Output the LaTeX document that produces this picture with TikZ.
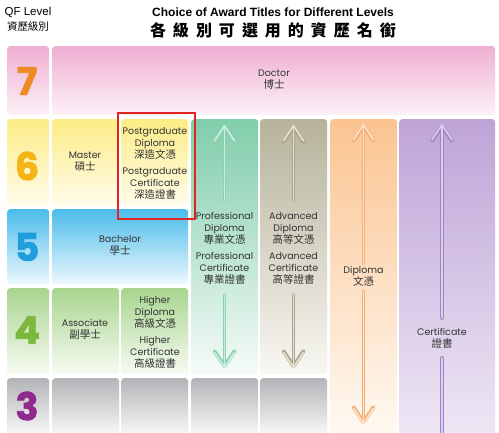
\documentclass[tikz,border=0pt]{standalone}
\usepackage{fontspec}
\setmainfont{Poppins}
\newfontfamily\zhfont{Noto Sans CJK TC}
\newfontfamily\headfont{Liberation Sans}
\newfontfamily\numfont{Poppins}[BoldFeatures={FakeBold=2}]
\usetikzlibrary{arrows.meta,positioning}

\newcommand\zhtxt[1]{{\zhfont\fontsize{10.5}{12}\selectfont #1}}

\definecolor{pinkA}{HTML}{EFAFD2}
\definecolor{pinkB}{HTML}{FDF1F7}
\definecolor{yellowA}{HTML}{FCEC86}
\definecolor{yellowB}{HTML}{FFFCEC}
\definecolor{blueA}{HTML}{4BBCEB}
\definecolor{blueB}{HTML}{EDF8FD}
\definecolor{greenA}{HTML}{A8D58F}
\definecolor{greenB}{HTML}{F7FBF3}
\definecolor{greyA}{HTML}{B3B4B7}
\definecolor{greyB}{HTML}{FFFFFF}
\definecolor{tealA}{HTML}{80CDAB}
\definecolor{tealB}{HTML}{F5FBF8}
\definecolor{khakiA}{HTML}{B6B29B}
\definecolor{khakiB}{HTML}{F8F7F2}
\definecolor{orangeA}{HTML}{FBC491}
\definecolor{orangeB}{HTML}{FFFAF4}
\definecolor{purpleA}{HTML}{BEA4D7}
\definecolor{purpleB}{HTML}{EFE8F5}
\definecolor{lv7}{HTML}{F08A24}
\definecolor{lv6}{HTML}{F5B417}
\definecolor{lv5}{HTML}{1E9EDB}
\definecolor{lv4}{HTML}{7CB83E}
\definecolor{lv3}{HTML}{8E2A8E}
\definecolor{framered}{HTML}{E02424}
\definecolor{tealline}{HTML}{8FD0B3}
\definecolor{tealfill}{HTML}{CBEFDE}
\definecolor{khakiline}{HTML}{A9A58E}
\definecolor{khakifill}{HTML}{E6E2CE}
\definecolor{orangeline}{HTML}{F4B07A}
\definecolor{orangefill}{HTML}{FFE3C8}
\definecolor{purpleline}{HTML}{A186C4}
\definecolor{purplefill}{HTML}{DCCDEC}

\tikzset{
  cell/.style={rounded corners=3pt, inner sep=0pt, anchor=north west},
  lbl/.style={align=center, inner sep=0pt, text=black!80, font=\fontsize{9.5}{12}\selectfont},
  lvl/.style={inner sep=0pt, font=\numfont\fontsize{38}{38}\selectfont\bfseries},
  tip/.style={-{Straight Barb[length=15pt,width=20pt,round]}},
  flow/.style 2 args={line width=1.6pt, draw=#2, line cap=round, preaction={draw=#1, line width=3.8pt, line cap=round}},
  flowtip/.style 2 args={tip, line width=1.6pt, draw=#2, line cap=round, preaction={draw=#1, line width=3.8pt, line cap=round, tip}}
}

\begin{document}
\begin{tikzpicture}[x=1pt,y=-1pt]
  \clip (0,0) rectangle (499,433);
  \fill[white] (0,0) rectangle (499,433);

  \node[font=\headfont\bfseries\fontsize{12}{14}\selectfont] (title) at (273,12) {Choice of Award Titles for Different Levels};
  \node[font=\zhfont\bfseries\fontsize{16}{18}\selectfont] (titlezh) at (273,30) {各\hspace{7pt}級\hspace{7pt}別\hspace{7pt}可\hspace{7pt}選\hspace{7pt}用\hspace{7pt}的\hspace{7pt}資\hspace{7pt}歷\hspace{7pt}名\hspace{7pt}銜};
  \node[font=\headfont\fontsize{11.5}{13}\selectfont] (qf) at (28,12) {QF Level};
  \node[font=\zhfont\fontsize{10.5}{12}\selectfont] (qfzh) at (28,27) {資歷級別};

  \node[cell, top color=pinkA, bottom color=pinkB, minimum width=42pt, minimum height=69pt] (l7) at (7,46) {};
  \node[cell, top color=yellowA, bottom color=yellowB, minimum width=42pt, minimum height=87pt] (l6) at (7,119) {};
  \node[cell, top color=blueA, bottom color=blueB, minimum width=42pt, minimum height=75pt] (l5) at (7,209) {};
  \node[cell, top color=greenA, bottom color=greenB, minimum width=42pt, minimum height=86pt] (l4) at (7,288) {};
  \node[cell, top color=greyA, bottom color=greyB, minimum width=42pt, minimum height=62pt] (l3) at (7,378) {};

  \node[cell, top color=pinkA, bottom color=pinkB, minimum width=443pt, minimum height=69pt] (doctor) at (52,46) {};
  \node[cell, top color=yellowA, bottom color=yellowB, minimum width=67pt, minimum height=87pt] (master) at (52,119) {};
  \node[cell, top color=yellowA, bottom color=yellowB, minimum width=67pt, minimum height=87pt] (pgrad) at (121,119) {};
  \node[cell, top color=blueA, bottom color=blueB, minimum width=136pt, minimum height=75pt] (bachelor) at (52,209) {};
  \node[cell, top color=greenA, bottom color=greenB, minimum width=67pt, minimum height=86pt] (assoc) at (52,288) {};
  \node[cell, top color=greenA, bottom color=greenB, minimum width=67pt, minimum height=86pt] (higher) at (121,288) {};
  \node[cell, top color=tealA, bottom color=tealB, minimum width=67pt, minimum height=255pt] (prof) at (191,119) {};
  \node[cell, top color=khakiA, bottom color=khakiB, minimum width=67pt, minimum height=255pt] (adv) at (260,119) {};
  \node[cell, top color=orangeA, bottom color=orangeB, minimum width=67pt, minimum height=321pt] (dip) at (330,119) {};
  \node[cell, top color=purpleA, bottom color=purpleB, minimum width=96pt, minimum height=321pt] (cert) at (399,119) {};
  \node[cell, top color=greyA, bottom color=greyB, minimum width=67pt, minimum height=62pt] (g1) at (52,378) {};
  \node[cell, top color=greyA, bottom color=greyB, minimum width=67pt, minimum height=62pt] (g2) at (121,378) {};
  \node[cell, top color=greyA, bottom color=greyB, minimum width=67pt, minimum height=62pt] (g3) at (191,378) {};
  \node[cell, top color=greyA, bottom color=greyB, minimum width=67pt, minimum height=62pt] (g4) at (260,378) {};

  \node[lvl, text=lv7] (n7) at (27,81) {7};
  \node[lvl, text=lv6] (n6) at (27,166) {6};
  \node[lvl, text=lv5] (n5) at (27,247) {5};
  \node[lvl, text=lv4] (n4) at (27,330) {4};
  \node[lvl, text=lv3] (n3) at (27,406) {3};

  \node[lbl] (tdoctor) at (274,80) {Doctor\\\zhtxt{博士}};
  \node[lbl] (tmaster) at (85,162) {Master\\\zhtxt{碩士}};
  \node[lbl] (tpgrad) at (155,163) {Postgraduate\\Diploma\\\zhtxt{深造文憑}\\[4pt]Postgraduate\\Certificate\\\zhtxt{深造證書}};
  \node[lbl] (tbachelor) at (120,245) {Bachelor\\\zhtxt{學士}};
  \node[lbl] (tprof) at (224.5,248) {Professional\\Diploma\\\zhtxt{專業文憑}\\[4pt]Professional\\Certificate\\\zhtxt{專業證書}};
  \node[lbl] (tadv) at (293.5,248) {Advanced\\Diploma\\\zhtxt{高等文憑}\\[4pt]Advanced\\Certificate\\\zhtxt{高等證書}};
  \node[lbl] (tdip) at (363.5,276) {Diploma\\\zhtxt{文憑}};
  \node[lbl] (tassoc) at (85,329) {Associate\\\zhtxt{副學士}};
  \node[lbl] (thigher) at (155,332) {Higher\\Diploma\\\zhtxt{高級文憑}\\[4pt]Higher\\Certificate\\\zhtxt{高級證書}};
  \node[lbl] (tcert) at (442,338) {Certificate\\\zhtxt{證書}};

  \node[draw=framered, line width=1.6pt, minimum width=77pt, minimum height=106pt, anchor=north west] (pgframe) at (117,112) {};

  \coordinate (pu0) at (224.5,200); \coordinate (pu1) at (224.5,125);
  \coordinate (pd0) at (224.5,295); \coordinate (pd1) at (224.5,368);
  \coordinate (au0) at (293.5,200); \coordinate (au1) at (293.5,125);
  \coordinate (ad0) at (293.5,295); \coordinate (ad1) at (293.5,368);
  \coordinate (du0) at (363.5,264); \coordinate (du1) at (363.5,124);
  \coordinate (dd0) at (363.5,291); \coordinate (dd1) at (363.5,424);
  \coordinate (cu0) at (442,318); \coordinate (cu1) at (442,124);
  \coordinate (cd0) at (442,358); \coordinate (cd1) at (442,445);

  \draw[flowtip={tealline}{tealfill}] (pu0) -- (pu1);
  \draw[flowtip={tealline}{tealfill}] (pd0) -- (pd1);
  \draw[flowtip={khakiline}{khakifill}] (au0) -- (au1);
  \draw[flowtip={khakiline}{khakifill}] (ad0) -- (ad1);
  \draw[flowtip={orangeline}{orangefill}] (du0) -- (du1);
  \draw[flowtip={orangeline}{orangefill}] (dd0) -- (dd1);
  \draw[flowtip={purpleline}{purplefill}] (cu0) -- (cu1);
  \draw[flow={purpleline}{purplefill}] (cd0) -- (cd1);
\end{tikzpicture}
\end{document}
